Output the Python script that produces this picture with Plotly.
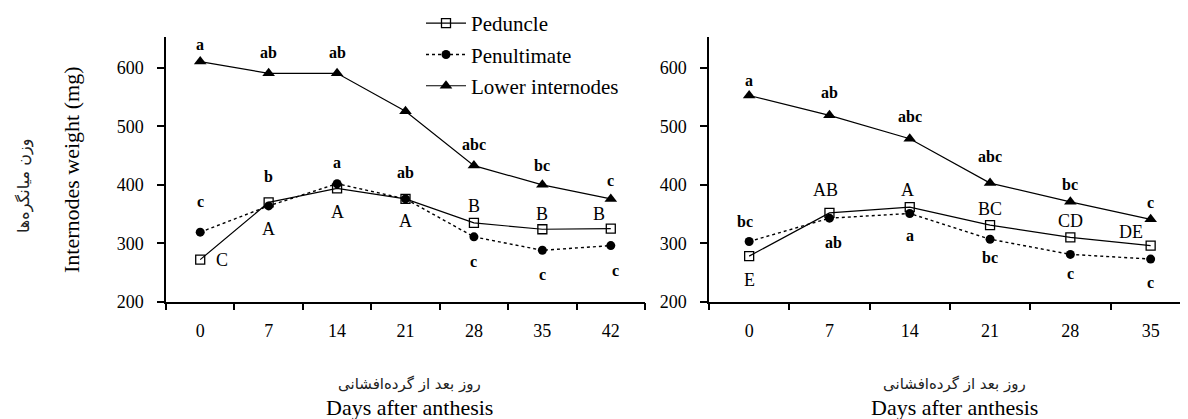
import plotly.graph_objects as go

# ---------------- data ----------------
days_left = ["0", "7", "14", "21", "28", "35", "42"]
days_right = ["0", "7", "14", "21", "28", "35"]

peduncle_left = [272, 370, 394, 376, 335, 324, 325]
penultimate_left = [319, 364, 402, 376, 311, 288, 296]
lower_left = [611, 591, 591, 526, 433, 400, 376]

peduncle_right = [278, 352, 362, 331, 310, 296]
penultimate_right = [303, 343, 351, 307, 281, 273]
lower_right = [553, 519, 479, 403, 371, 341]

# significance letters: (day, y position, text)
lower_left_lbl = [("0", 640, "a"), ("7", 626, "ab"), ("14", 626, "ab"),
                  ("28", 469, "abc"), ("35", 434, "bc"), ("42", 407, "c")]
pen_left_lbl = [("0", 371, "c"), ("7", 414, "b"), ("14", 438, "a"), ("21", 421, "ab"),
                ("28", 268, "c"), ("35", 246, "c"), ("42", 253, "c")]
ped_left_lbl = [("0", 272, "C"), ("7", 325, "A"), ("14", 354, "A"), ("21", 338, "A"),
                ("28", 364, "B"), ("35", 350, "B"), ("42", 350, "B")]

lower_right_lbl = [("0", 578, "a"), ("7", 558, "ab"), ("14", 517, "abc"),
                   ("21", 449, "abc"), ("28", 400, "bc"), ("35", 370, "c")]
pen_right_lbl = [("0", 337, "bc"), ("7", 302, "ab"), ("14", 313, "a"),
                 ("21", 276, "bc"), ("28", 248, "c"), ("35", 233, "c")]
ped_right_lbl = [("0", 237, "E"), ("7", 392, "AB"), ("14", 392, "A"),
                 ("21", 358, "BC"), ("28", 339, "CD"), ("35", 320, "DE")]

names = ["Peduncle", "Penultimate", "Lower internodes"]
y_title_en = "Internodes weight (mg)"
y_title_fa = "وزن میانگره‌ها"
x_title_fa = "روز بعد از گرده‌افشانی"
x_title_en = "Days after anthesis"

# ---------------- figure ----------------
# the page body has an 8px default margin, so the figure is placed at (8, 8)
OFF = 8
W, H = 1188 - OFF, 419 - OFF
SERIF = "Liberation Serif, Times New Roman, serif"


def fx(px):
    return (px - OFF) / W


def fy(py):
    return 1 - (py - OFF) / H


fig = go.Figure()

styles = [
    dict(line=dict(color="black", width=1.2, dash="solid"),
         marker=dict(symbol="square-open", size=9, color="black", line=dict(width=1.3, color="black"))),
    dict(line=dict(color="black", width=1.4, dash="dot"),
         marker=dict(symbol="circle", size=9, color="black")),
    dict(line=dict(color="black", width=1.2, dash="solid"),
         marker=dict(symbol="triangle-up", size=11, color="black")),
]

left_series = [peduncle_left, penultimate_left, lower_left]
right_series = [peduncle_right, penultimate_right, lower_right]

for i, (nm, ys) in enumerate(zip(names, left_series)):
    fig.add_trace(go.Scatter(x=days_left, y=ys, name=nm, mode="lines+markers",
                             xaxis="x", yaxis="y", legendgroup=nm, cliponaxis=False, **styles[i]))
for i, (nm, ys) in enumerate(zip(names, right_series)):
    fig.add_trace(go.Scatter(x=days_right, y=ys, name=nm, mode="lines+markers",
                             xaxis="x2", yaxis="y2", legendgroup=nm, showlegend=False,
                             cliponaxis=False, **styles[i]))

ydom = [fy(301.7), fy(36.5)]
xdom1 = [fx(166), fx(645)]
# right panel runs past the picture edge: category width ~80.3 px starting at 709
cw2 = 80.3
xdom2 = [fx(709), 1.0]
x2_end = -0.5 + (1188 - 709) / cw2

axis_common = dict(showline=True, linecolor="black", linewidth=1.5, ticks="outside",
                   tickcolor="black", tickwidth=1.5, ticklen=7, showgrid=False, zeroline=False,
                   tickfont=dict(family=SERIF, size=18, color="black"))

fig.update_layout(
    width=W, height=H, margin=dict(l=0, r=0, t=0, b=0, autoexpand=False),
    paper_bgcolor="white", plot_bgcolor="white",
    font=dict(family=SERIF, color="black"),
    xaxis=dict(domain=xdom1, anchor="y", type="category", categoryarray=days_left,
               range=[-0.5, 6.5], tickson="boundaries", ticklabelstandoff=12, **axis_common),
    yaxis=dict(domain=ydom, anchor="x", range=[200, 654], dtick=100, tick0=200,
               ticklabelstandoff=10, **axis_common),
    xaxis2=dict(domain=xdom2, anchor="y2", type="category", categoryarray=days_right,
                range=[-0.5, x2_end], tickson="boundaries", ticklabelstandoff=12, **axis_common),
    yaxis2=dict(domain=ydom, anchor="x2", range=[200, 654], dtick=100, tick0=200,
                ticklabelstandoff=10, **axis_common),
    legend=dict(x=fx(421), y=1 + 5 / H, xanchor="left", yanchor="top",
                font=dict(family=SERIF, size=21, color="black"),
                bgcolor="rgba(0,0,0,0)", tracegroupgap=1, itemwidth=40),
    showlegend=True,
)

ann = []


def add_labels(lbls, cats, xref, yref, size, bold, xshift_map=None):
    for d, yv, t in lbls:
        xs = 0
        if xshift_map and d in xshift_map:
            xs = xshift_map[d]
        txt = "<b>%s</b>" % t if bold else t
        ann.append(dict(x=cats.index(d), y=yv, xref=xref, yref=yref, text=txt, showarrow=False,
                        xanchor="center", yanchor="middle",
                        xshift=xs, font=dict(family=SERIF, size=size, color="black")))


add_labels(lower_left_lbl, days_left, "x", "y", 16, True)
add_labels(pen_left_lbl, days_left, "x", "y", 16, True, {"42": 5})
add_labels(ped_left_lbl, days_left, "x", "y", 18, False, {"0": 22, "42": -12})
add_labels(lower_right_lbl, days_right, "x2", "y2", 16, True)
add_labels(pen_right_lbl, days_right, "x2", "y2", 16, True, {"0": -4, "7": 4})
add_labels(ped_right_lbl, days_right, "x2", "y2", 18, False, {"7": -4, "14": -2, "35": -20})

# axis titles
ann.append(dict(x=fx(72), y=fy(170), xref="paper", yref="paper", text=y_title_en,
                xanchor="center", yanchor="middle",
                textangle=-90, showarrow=False, font=dict(family=SERIF, size=22, color="black")))
ann.append(dict(x=fx(24), y=fy(186), xref="paper", yref="paper", text=y_title_fa,
                xanchor="center", yanchor="middle",
                textangle=-90, showarrow=False, font=dict(family="DejaVu Sans", size=16, color="#222")))
for cx in (409, 954):
    ann.append(dict(x=fx(cx), y=fy(384), xref="paper", yref="paper", text=x_title_fa,
                    xanchor="center", yanchor="middle",
                    showarrow=False, font=dict(family="DejaVu Sans", size=15, color="#222")))
    ann.append(dict(x=fx(cx), y=fy(407), xref="paper", yref="paper", text=x_title_en,
                    xanchor="center", yanchor="middle",
                    showarrow=False, font=dict(family=SERIF, size=22, color="black")))

fig.update_layout(annotations=ann)
fig.write_html("out.html")
